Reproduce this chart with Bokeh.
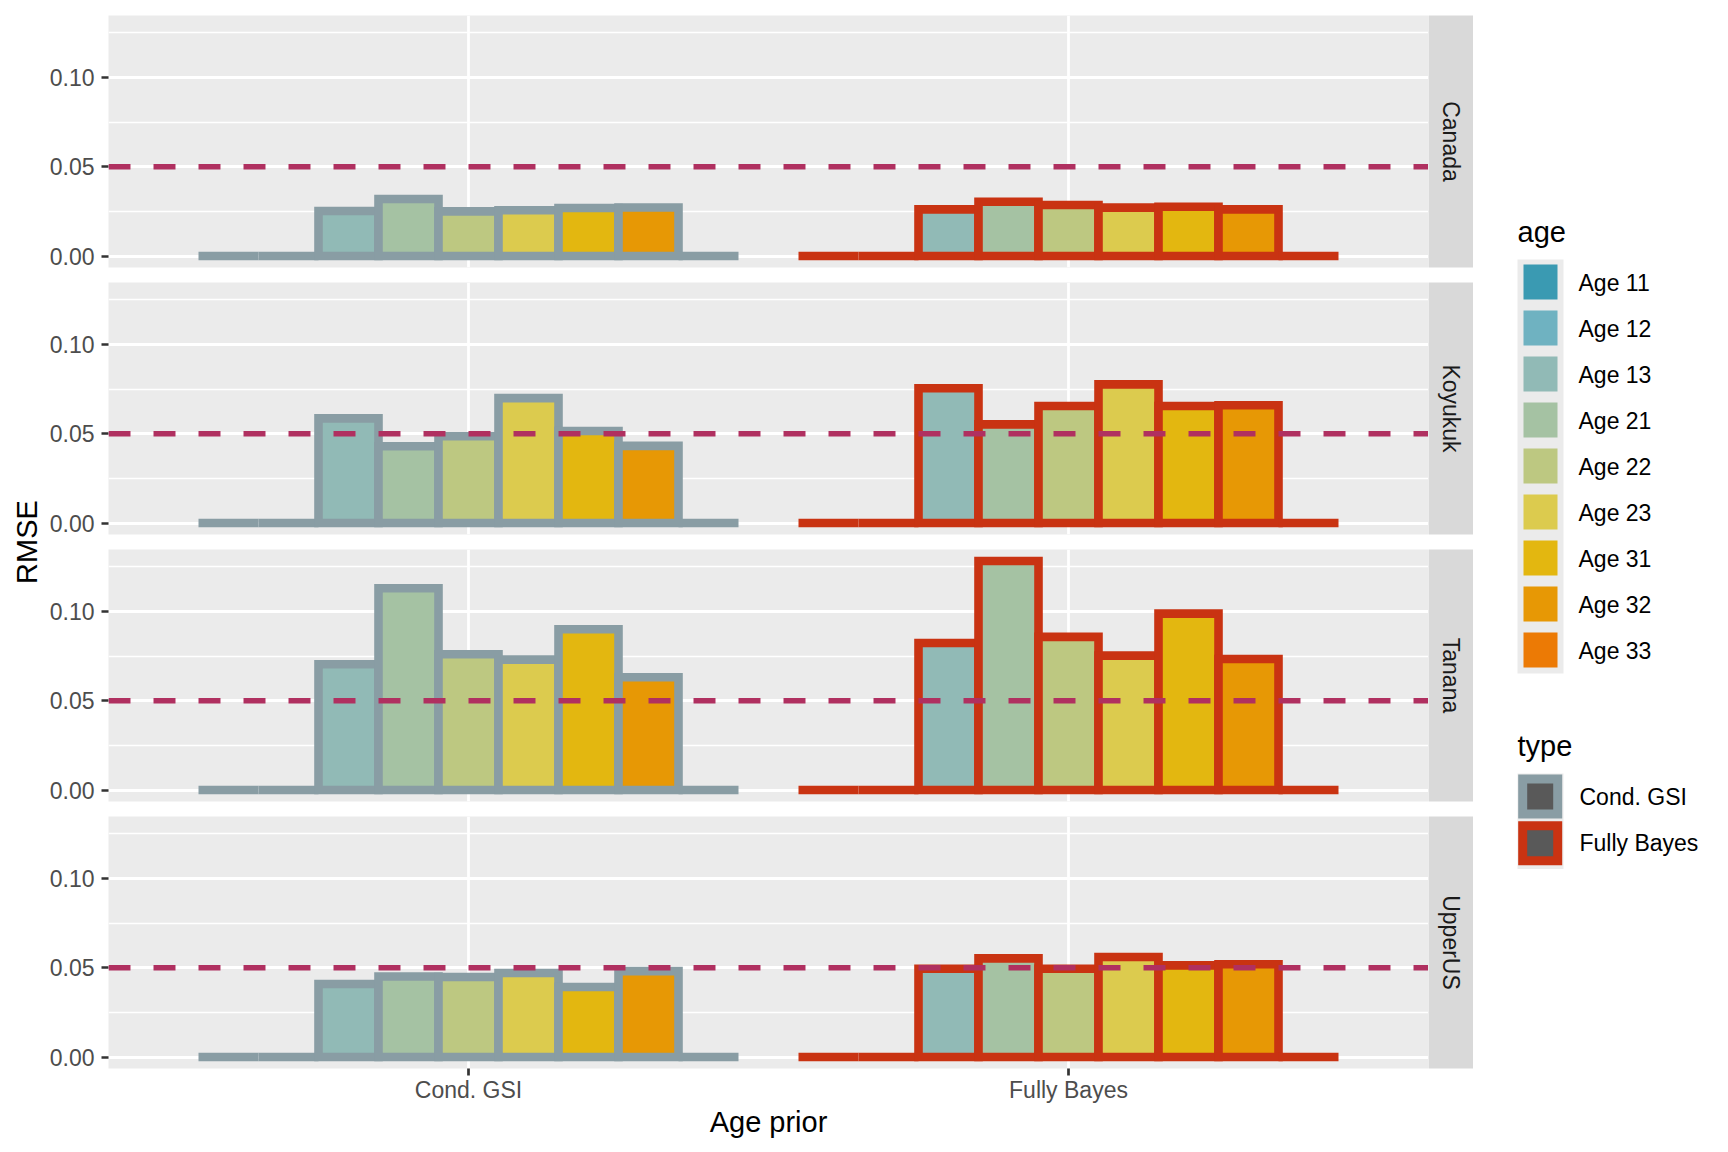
import math
from bokeh.plotting import figure
from bokeh.models import Range1d, FixedTicker, NumeralTickFormatter, Span, ColumnDataSource
from bokeh.layouts import row, column
from bokeh.embed import file_html
from bokeh.resources import INLINE
from bokeh.core.properties import value

# ---------------- data ----------------
regions = ["Canada", "Koyukuk", "Tanana", "UpperUS"]
types = ["Cond. GSI", "Fully Bayes"]
ages = ["Age 11", "Age 12", "Age 13", "Age 21", "Age 22", "Age 23", "Age 31", "Age 32", "Age 33"]
age_colors = ["#3A9AB2", "#6FB2C1", "#91BAB6", "#A5C2A3", "#BDC881", "#DCCB4E", "#E3B710", "#E79805", "#EC7A05"]
type_colors = ["#899DA4", "#C93312"]

canada_cond_gsi = [0, 0, 0.0252, 0.0319, 0.0250, 0.0256, 0.0269, 0.0272, 0]
canada_fully_bayes = [0, 0, 0.0261, 0.0304, 0.0286, 0.0271, 0.0276, 0.0261, 0]
koyukuk_cond_gsi = [0, 0, 0.0586, 0.0430, 0.0486, 0.0699, 0.0515, 0.0432, 0]
koyukuk_fully_bayes = [0, 0, 0.0754, 0.0552, 0.0655, 0.0776, 0.0655, 0.0659, 0]
tanana_cond_gsi = [0, 0, 0.0704, 0.1129, 0.0760, 0.0730, 0.0900, 0.0631, 0]
tanana_fully_bayes = [0, 0, 0.0823, 0.1282, 0.0857, 0.0752, 0.0987, 0.0733, 0]
upperus_cond_gsi = [0, 0, 0.0409, 0.0451, 0.0448, 0.0470, 0.0392, 0.0481, 0]
upperus_fully_bayes = [0, 0, 0.0494, 0.0552, 0.0494, 0.0560, 0.0513, 0.0519, 0]

rmse = {
    "Canada": [canada_cond_gsi, canada_fully_bayes],
    "Koyukuk": [koyukuk_cond_gsi, koyukuk_fully_bayes],
    "Tanana": [tanana_cond_gsi, tanana_fully_bayes],
    "UpperUS": [upperus_cond_gsi, upperus_fully_bayes],
}
threshold = 0.05
y_ticks = [0.0, 0.05, 0.10]
y_minor_ticks = [0.025, 0.075, 0.125]
x_tick_labels = {1: "Cond. GSI", 2: "Fully Bayes"}

# ---------------- style / layout ----------------
FONT = "Liberation Sans"
PANEL_BG = "#EBEBEB"
STRIP_BG = "#D9D9D9"
FRAME_W, FRAME_H = 1320, 252
LEFT_W, STRIP_W, LEG_W = 44, 45, 247
BORDER_L, BORDER_T, BORDER_T_FIRST, BORDER_B, BORDER_B_LAST = 64, 7, 15, 8, 78

all_vals = [v for r in regions for s in rmse[r] for v in s]
ymax = max(all_vals)
pad = 0.05 * ymax
y_lo, y_hi = -pad, ymax + pad

n_age = len(ages)
dodge = 0.9
bw = dodge / n_age
nreg = len(regions)


def borders(i):
    bt = BORDER_T_FIRST if i == 0 else BORDER_T
    bb = BORDER_B_LAST if i == nreg - 1 else BORDER_B
    return bt, bb


H_rows = [sum(borders(i)) + FRAME_H for i in range(nreg)]
H = sum(H_rows)
PAGE_TOP = 0


def yd(y_page):
    return PAGE_TOP + H - y_page


rows = []
for i, reg in enumerate(regions):
    last = i == nreg - 1
    h = H_rows[i]
    bt, bb = borders(i)
    p = figure(width=BORDER_L + FRAME_W, height=h, x_range=Range1d(0.4, 2.6), y_range=Range1d(y_lo, y_hi),
               output_backend="svg", toolbar_location=None,
               x_axis_location="below" if last else None,
               min_border_left=BORDER_L, min_border_right=0, min_border_top=bt, min_border_bottom=bb)
    p.background_fill_color = PANEL_BG
    p.border_fill_color = "white"
    p.outline_line_color = None

    p.xgrid.ticker = FixedTicker(ticks=[1, 2])
    p.xgrid.grid_line_color = "white"
    p.xgrid.grid_line_width = 2.8
    p.ygrid.ticker = FixedTicker(ticks=y_ticks, minor_ticks=y_minor_ticks)
    p.ygrid.grid_line_color = "white"
    p.ygrid.grid_line_width = 2.8
    p.ygrid.minor_grid_line_color = "white"
    p.ygrid.minor_grid_line_width = 1.4

    ya = p.yaxis[0]
    ya.ticker = FixedTicker(ticks=y_ticks, minor_ticks=[])
    ya.formatter = NumeralTickFormatter(format="0.00")
    ya.axis_line_color = None
    ya.major_tick_line_color = "#333333"
    ya.major_tick_line_width = 2.7
    ya.major_tick_out = 7
    ya.major_tick_in = 0
    ya.minor_tick_out = 0
    ya.minor_tick_in = 0
    ya.major_label_standoff = 7
    ya.major_label_text_font = FONT
    ya.major_label_text_font_size = "23px"
    ya.major_label_text_color = "#4D4D4D"

    if last:
        xa = p.xaxis[0]
        xa.ticker = FixedTicker(ticks=[1, 2], minor_ticks=[])
        xa.major_label_overrides = x_tick_labels
        xa.axis_line_color = None
        xa.major_tick_line_color = "#333333"
        xa.major_tick_line_width = 2.7
        xa.major_tick_out = 7
        xa.major_tick_in = 0
        xa.minor_tick_out = 0
        xa.minor_tick_in = 0
        xa.major_label_standoff = 1
        xa.major_label_text_font = FONT
        xa.major_label_text_font_size = "23px"
        xa.major_label_text_color = "#4D4D4D"
        xa.axis_label = "Age prior"
        xa.axis_label_standoff = 0
        xa.axis_label_text_font = FONT
        xa.axis_label_text_font_size = "29px"
        xa.axis_label_text_font_style = "normal"
        xa.axis_label_text_color = "black"

    for t, typ in enumerate(types):
        vals = rmse[reg][t]
        xs = [(t + 1) + (k - (n_age - 1) / 2) * bw for k in range(n_age)]
        src = ColumnDataSource(dict(x=xs, top=vals, fill=age_colors, age=ages))
        p.vbar(x="x", width=bw, top="top", bottom=0, fill_color="fill", line_color=type_colors[t],
               line_width=8.6, line_join="miter", source=src)

    p.add_layout(Span(location=threshold, dimension="width", line_color="#B03060",
                      line_width=5.5, line_dash="22 23"))

    s = figure(width=STRIP_W, height=h, x_range=Range1d(0, 1), y_range=Range1d(0, 1),
               output_backend="svg", toolbar_location=None, x_axis_location=None, y_axis_location=None,
               min_border_left=0, min_border_right=0, min_border_top=bt, min_border_bottom=bb)
    s.background_fill_color = STRIP_BG
    s.border_fill_color = "white"
    s.outline_line_color = None
    s.grid.visible = False
    s.text(x=[0.5], y=[0.5], text=[reg], angle=-math.pi / 2, text_align="center", text_baseline="middle",
           text_font=value(FONT), text_font_size="23px", text_color="#1A1A1A")
    rows.append(row(p, s, spacing=0))

# ---- shared y title ----
lab = figure(width=LEFT_W, height=H, x_range=Range1d(0, LEFT_W), y_range=Range1d(0, H),
             output_backend="svg", toolbar_location=None, x_axis_location=None, y_axis_location=None,
             min_border_left=0, min_border_right=0, min_border_top=0, min_border_bottom=0)
lab.background_fill_color = "white"
lab.border_fill_color = "white"
lab.outline_line_color = None
lab.grid.visible = False
lab.text(x=[26.5], y=[yd(541.5)], text=["RMSE"], angle=math.pi / 2, text_align="center", text_baseline="middle",
         text_font=value(FONT), text_font_size="29px", text_color="black")

# ---- legends ----
LX0 = LEFT_W + BORDER_L + FRAME_W + STRIP_W
leg = figure(width=LEG_W, height=H, x_range=Range1d(LX0, LX0 + LEG_W), y_range=Range1d(0, H),
             output_backend="svg", toolbar_location=None, x_axis_location=None, y_axis_location=None,
             min_border_left=0, min_border_right=0, min_border_top=0, min_border_bottom=0)
leg.background_fill_color = "white"
leg.border_fill_color = "white"
leg.outline_line_color = None
leg.grid.visible = False

key = 46
age_top = 259
leg.text(x=[1517], y=[yd(231)], text=["age"], text_align="left", text_baseline="middle",
         text_font=value(FONT), text_font_size="29px", text_color="black")
leg.quad(left=[1517], right=[1563], top=[yd(age_top)], bottom=[yd(age_top + key * n_age)],
         fill_color=PANEL_BG, line_color=None)
leg.quad(left=[1523] * n_age, right=[1557] * n_age,
         top=[yd(age_top + key * k + 5) for k in range(n_age)],
         bottom=[yd(age_top + key * k + 40) for k in range(n_age)],
         fill_color=age_colors, line_color=None)
leg.text(x=[1578] * n_age, y=[yd(age_top + key * k + 23) for k in range(n_age)], text=ages,
         text_align="left", text_baseline="middle", text_font=value(FONT), text_font_size="23px",
         text_color="black")

type_top = 774
leg.text(x=[1517], y=[yd(745)], text=["type"], text_align="left", text_baseline="middle",
         text_font=value(FONT), text_font_size="29px", text_color="black")
leg.quad(left=[1517], right=[1563], top=[yd(type_top - 1)], bottom=[yd(type_top + 2 * 46.7 + 1)],
         fill_color=PANEL_BG, line_color=None)
for t, typ in enumerate(types):
    y0 = type_top + 46.7 * t
    leg.quad(left=[1522.2], right=[1557.2], top=[yd(y0 + 4.5)], bottom=[yd(y0 + 39.5)],
             fill_color="#595959", line_color=type_colors[t], line_width=9, line_join="miter")
    leg.text(x=[1579], y=[yd(y0 + 22)], text=[typ], text_align="left", text_baseline="middle",
             text_font=value(FONT), text_font_size="23px", text_color="black")

layout = row(lab, column(*rows, spacing=0), leg, spacing=0)

open("out.html", "w").write(file_html(layout, INLINE))
